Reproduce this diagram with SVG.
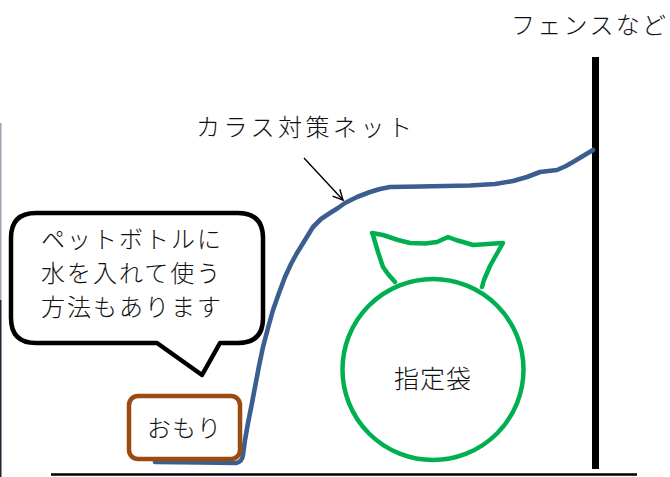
<svg xmlns="http://www.w3.org/2000/svg" width="670" height="477" viewBox="0 0 670 477">
  <style>
    .t { font-family: "Noto Sans CJK JP", "Noto Sans", sans-serif; font-weight: 300; fill: #111111; }
    .big { font-size: 24px; letter-spacing: 2px; }
    .net { fill: none; stroke: #3a5f8f; stroke-width: 4.6; stroke-linecap: round; stroke-linejoin: round; }
    .bag { fill: none; stroke: #00b050; stroke-width: 4.5; stroke-linecap: round; stroke-linejoin: round; }
  </style>
  <defs>
    <marker id="openArrow" viewBox="0 0 12 12" refX="11" refY="6" markerWidth="12" markerHeight="12" markerUnits="userSpaceOnUse" orient="auto">
      <path d="M1,1 L11,6 L1,11" fill="none" stroke="#000" stroke-width="1.4"/>
    </marker>
  </defs>

  <rect width="670" height="477" fill="#ffffff"/>

  <!-- left edge strip -->
  <line x1="0.7" y1="123" x2="0.7" y2="300" stroke="#9aa6b2" stroke-width="1.6"/>
  <line x1="0.7" y1="300" x2="0.7" y2="477" stroke="#1c2733" stroke-width="1.6"/>

  <!-- ground -->
  <g id="ground">
    <line x1="51" y1="474.5" x2="637" y2="474.5" stroke="#000" stroke-width="2.4"/>
  </g>

  <!-- fence -->
  <g id="fence">
    <rect x="592" y="57" width="7" height="412" fill="#000"/>
    <text class="t" x="511" y="34" font-size="24" letter-spacing="2.3">フェンスなど</text>
  </g>

  <!-- crow net draped from the fence down to the ground -->
  <g id="net">
    <path class="net" d="M155,462 L200,462.5 L236,463 Q242,462 243,455 L245,440 L248,423 L252,403 L255,387 L259,366 L263,347 L268,328 L273,310 L279,293 L285,277 L291,264 L297,253 L305,240 L313,227 L321,219 L330,213 L338,208 L345,203 L357,197 L370,192 L380,189 L390,187 L420,186.5 L470,185.5 L495,184 L513,181 L527,177 L540,172 L557,170 L566,166 L573,162 L583,156 L593,150"/>
  </g>

  <!-- net label and arrow -->
  <g id="net-label">
    <text class="t" x="196" y="136" font-size="24" letter-spacing="3.5">カラス対策ネット</text>
  </g>
  <g id="connectors">
    <line x1="304" y1="158" x2="343" y2="200" stroke="#000" stroke-width="1.4" marker-end="url(#openArrow)"/>
  </g>

  <!-- speech bubble -->
  <g id="bubble">
    <path d="M36,213 L238,213 Q263,213 263,238 L263,318 Q263,343 238,343 L220,343 L202,375 L157,343 L36,343 Q11,343 11,318 L11,238 Q11,213 36,213 Z" fill="#fff" stroke="#000" stroke-width="4.5" stroke-linejoin="round"/>
    <text class="t big" x="41" y="248">ペットボトルに</text>
    <text class="t big" x="41" y="282">水を入れて使う</text>
    <text class="t big" x="41" y="316">方法もあります</text>
  </g>

  <!-- weight -->
  <g id="weight">
    <rect x="129" y="396" width="111" height="63" rx="9" fill="#fff" stroke="#9a4b0f" stroke-width="4.5"/>
    <text class="t" x="184.5" y="437" font-size="24" letter-spacing="1" text-anchor="middle">おもり</text>
  </g>

  <!-- designated garbage bag -->
  <g id="bag">
    <path class="bag" d="M395,282 L388,274 L383,267 L378,252 L373,235 L372,233 L383,235 L398,240 L410,243 L425,243.5 L437,242 L448,237 L456,240 L463,242 L473,245 L488,244 L502,243 L503,243 L499,250 L495,257 L490,266 L487,273 L484,280 L482,287"/>
    <circle class="bag" cx="433" cy="369.5" r="90.5" fill="#fff"/>
    <text class="t" x="433" y="388" font-size="25" letter-spacing="1" text-anchor="middle">指定袋</text>
  </g>
</svg>
